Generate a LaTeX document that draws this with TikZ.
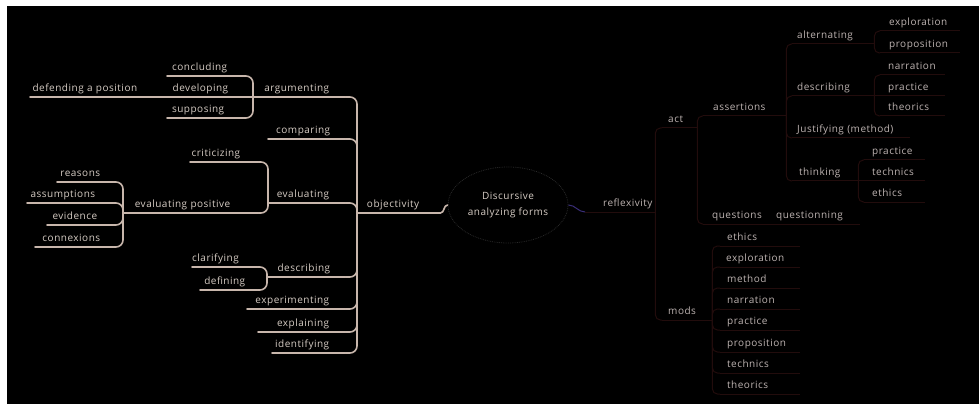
\documentclass[tikz,border=0pt]{standalone}
\usepackage{fontspec}
\setmainfont[LetterSpace=5]{Open Sans}
\usetikzlibrary{shapes.geometric}
\definecolor{cLT}{HTML}{D6CCC4}
\definecolor{cLL}{HTML}{C8B6AC}
\definecolor{cRT}{HTML}{BDB3B1}
\definecolor{cRL}{HTML}{220C0C}
\definecolor{cEL}{HTML}{2A2A2A}
\definecolor{cPU}{HTML}{3A2E78}
\newcommand\tfont{\fontsize{10}{11}\selectfont}
\tikzset{
  lnode/.style={anchor=south west, inner xsep=0pt, inner ysep=2.5pt, text height=7.5pt, text depth=2.5pt, font=\tfont, text=cLT, align=right},
  rnode/.style={lnode, text=cRT, align=left},
  lline/.style={draw=cLL, line width=1.6pt, line cap=round},
  rline/.style={draw=cRL, line width=1pt},
  lconn/.style={lline, rounded corners=7pt},
  rconn/.style={rline, rounded corners=5pt},
}
\newcommand\LN[6]{\pgfmathsetmacro\mywd{#3-#2}\pgfmathsetmacro\mygap{#3-#5}%
  \node[lnode, text width=\mywd pt] (#1) at (#2,#4) {#6\kern\mygap pt};%
  \draw[lline] (#1.south west) -- (#1.south east);}
\newcommand\RN[6]{\pgfmathsetmacro\mywd{#3-#2}\pgfmathsetmacro\mygap{#5-#2}%
  \node[rnode, text width=\mywd pt] (#1) at (#2,#4) {\hspace*{\mygap pt}#6};%
  \draw[rline] (#1.south west) -- (#1.south east);}
\begin{document}
\begin{tikzpicture}[x=1pt,y=-1pt]
\useasboundingbox (0,0) rectangle (979,406);
\fill[white] (0,0) rectangle (979,406);
\fill[black] (7,6) rectangle (979,404);
% centre
\node[ellipse, draw=cEL, line width=0.8pt, densely dotted, minimum width=120pt, minimum height=76pt, inner sep=0pt, align=center, text=cLT, font=\fontsize{10}{16}\selectfont] (c) at (508,205) {Discursive\\analyzing forms};
% left side
\LN{obj}{357}{440}{213}{419}{objectivity}
\LN{arg}{253}{345}{97}{329}{argumenting}
\LN{comp}{268}{345}{139}{330}{comparing}
\LN{eval}{268}{345}{203}{329}{evaluating}
\LN{desc}{267}{345}{277}{330}{describing}
\LN{expe}{247}{345}{309}{329}{experimenting}
\LN{expl}{258}{345}{332}{329}{explaining}
\LN{iden}{272}{345}{353}{329}{identifying}
\LN{concl}{167}{243}{76}{227}{concluding}
\LN{devel}{167}{253}{97}{228}{developing}
\LN{supp}{167}{243}{118}{224}{supposing}
\LN{defend}{30}{167}{97}{137}{defending a position}
\LN{crit}{190}{258}{162}{240}{criticizing}
\LN{evpos}{123}{258}{213}{230}{evaluating positive}
\LN{reas}{57}{113}{182}{100}{reasons}
\LN{assu}{27}{113}{203}{95}{assumptions}
\LN{evid}{47}{113}{225}{97}{evidence}
\LN{conn}{35}{113}{247}{100}{connexions}
\LN{clar}{192}{257}{267}{233}{clarifying}
\LN{defi}{200}{257}{290}{245}{defining}
\foreach \n in {arg,comp,eval,desc,expe,expl,iden}
  \draw[lconn] (\n.south east) -| (obj.south west);
\foreach \n in {concl,supp}
  \draw[lconn] (\n.south east) -| (arg.south west);
\draw[lline] (defend.south east) -- (devel.south west);
\draw[lline] (devel.south east) -- (arg.south west);
\foreach \n in {crit,evpos}
  \draw[lconn] (\n.south east) -| (eval.south west);
\foreach \n in {reas,assu,evid,conn}
  \draw[lconn] (\n.south east) -| (evpos.south west);
\foreach \n in {clar,defi}
  \draw[lconn] (\n.south east) -| (desc.south west);
\draw[lline] (obj.south east) to[out=0,in=180] (c.west);
% right side
\RN{refl}{585}{655}{212}{603}{reflexivity}
\RN{act}{662}{697}{128}{668}{act}
\RN{mods}{662}{712}{320}{668}{mods}
\RN{asse}{703}{786}{116}{713}{assertions}
\RN{ques}{703}{768}{224}{712}{questions}
\RN{alte}{792}{874}{44}{797}{alternating}
\RN{rdes}{792}{874}{96}{797}{describing}
\RN{just}{792}{910}{138}{797}{Justifying (method)}
\RN{thin}{792}{858}{181}{799}{thinking}
\RN{aexp}{880}{960}{31}{889}{exploration}
\RN{apro}{880}{960}{53}{889}{proposition}
\RN{dnar}{880}{945}{75}{888}{narration}
\RN{dpra}{880}{945}{96}{888}{practice}
\RN{dthe}{880}{945}{116}{888}{theorics}
\RN{tpra}{864}{925}{160}{872}{practice}
\RN{ttec}{864}{925}{181}{872}{technics}
\RN{teth}{864}{925}{202}{872}{ethics}
\RN{qque}{774}{860}{224}{776}{questionning}
\RN{meth}{720}{800}{246}{727}{ethics}
\RN{mexp}{720}{800}{267}{726}{exploration}
\RN{mmet}{720}{800}{288}{727}{method}
\RN{mnar}{720}{800}{309}{727}{narration}
\RN{mpra}{720}{800}{330}{727}{practice}
\RN{mpro}{720}{800}{352}{727}{proposition}
\RN{mtec}{720}{800}{373}{727}{technics}
\RN{mthe}{720}{800}{394}{727}{theorics}
\draw[cPU, line width=1pt] (c.east) to[out=0,in=180] (refl.south west);
\foreach \n in {act,mods} \draw[rconn] (refl.south east) |- (\n.south west);
\foreach \n in {asse,ques} \draw[rconn] (act.south east) |- (\n.south west);
\foreach \n in {alte,rdes,just,thin} \draw[rconn] (asse.south east) |- (\n.south west);
\foreach \n in {aexp,apro} \draw[rconn] (alte.south east) |- (\n.south west);
\foreach \n in {dnar,dthe} \draw[rconn] (rdes.south east) |- (\n.south west);
\draw[rline] (rdes.south east) -- (dpra.south west);
\foreach \n in {tpra,teth} \draw[rconn] (thin.south east) |- (\n.south west);
\draw[rline] (thin.south east) -- (ttec.south west);
\draw[rline] (ques.south east) -- (qque.south west);
\foreach \n in {meth,mexp,mmet,mnar,mpra,mpro,mtec,mthe} \draw[rconn] (mods.south east) |- (\n.south west);
\end{tikzpicture}
\end{document}
